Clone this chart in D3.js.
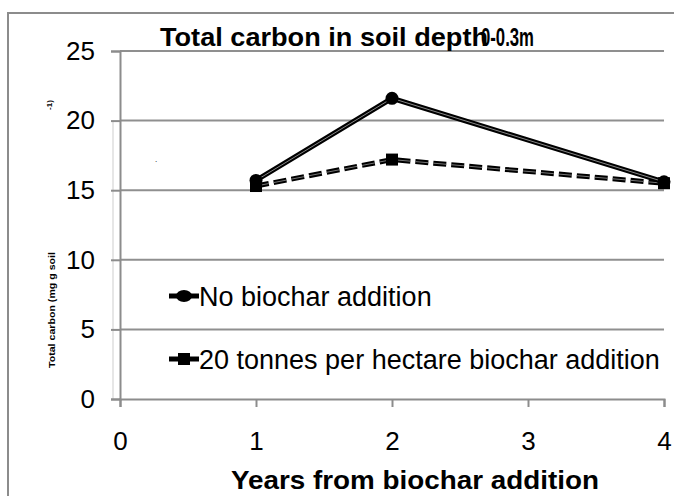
<!DOCTYPE html>
<html>
<head>
<meta charset="utf-8">
<script src="https://cdn.jsdelivr.net/npm/d3@7"></script>
<style>
  html, body { margin: 0; padding: 0; background: #fff; }
  text { font-family: "Liberation Sans", Arial, sans-serif; fill: #000; }
</style>
</head>
<body>
<div id="chart"></div>
<script>
// data
var years = [1, 2, 4];
var noBiochar = [15.7, 21.6, 15.6];
var biochar20 = [15.3, 17.2, 15.5];
var seriesNames = ['No biochar addition', '20 tonnes per hectare biochar addition'];
var xTicks = [0, 1, 2, 3, 4];
var yTicks = [0, 5, 10, 15, 20, 25];

var W = 674, H = 496;
var svg = d3.select('#chart')
            .append('svg')
            .attr('width', W)
            .attr('height', H);

// outer chart border
svg.append('rect')
    .attr('x', 8).attr('y', 13)
    .attr('width', W).attr('height', H)
    .style('fill', 'none')
    .style('stroke', '#8c8c8c')
    .style('stroke-width', 2);

var x = d3.scaleLinear().domain([0, 4]).range([120, 664]);
var y = d3.scaleLinear().domain([0, 25]).range([399, 51]);

// gridlines
svg.append('g')
    .selectAll('line')
    .data(yTicks.filter(function(d){ return d > 0; }))
    .enter().append('line')
    .attr('x1', x(0)).attr('x2', x(4))
    .attr('y1', function(d){ return y(d); })
    .attr('y2', function(d){ return y(d); })
    .style('stroke', '#8f8f8f')
    .style('stroke-width', 2);

// faint shadow line left of y axis
svg.append('line')
    .attr('x1', x(0) - 7).attr('x2', x(0) - 7)
    .attr('y1', y(20)).attr('y2', y(0))
    .style('stroke', '#e6e6e6')
    .style('stroke-width', 2);

var yAxis = svg.append('g')
    .attr('transform', 'translate(' + x(0) + ',0)')
    .call(d3.axisLeft(y).tickValues(yTicks).tickSize(9).tickPadding(16));
var xAxis = svg.append('g')
    .attr('transform', 'translate(0,' + y(0) + ')')
    .call(d3.axisBottom(x).tickValues(xTicks).tickFormat(d3.format('d')).tickSize(8).tickPadding(25));

[yAxis, xAxis].forEach(function(a){
  a.select('.domain').style('stroke', '#8c8c8c').style('stroke-width', 2);
  a.selectAll('.tick line').style('stroke', '#8c8c8c').style('stroke-width', 2);
  a.selectAll('.tick text')
    .style('font-family', '"Liberation Sans", Arial, sans-serif')
    .style('font-size', '26px')
    .style('fill', '#000');
});

var line = d3.line()
    .x(function(d){ return x(d[0]); })
    .y(function(d){ return y(d[1]); });

var s1 = d3.zip(years, noBiochar);
var s2 = d3.zip(years, biochar20);

// series 2: dashed with squares
svg.append('path')
    .datum(s2)
    .attr('d', line)
    .style('fill', 'none')
    .style('stroke', '#000')
    .style('stroke-width', 5)
    .style('stroke-dasharray', '13,5');
svg.append('path')
    .datum(s2)
    .attr('d', line)
    .style('fill', 'none')
    .style('stroke', '#777')
    .style('stroke-width', 1)
    .style('stroke-dasharray', '13,5');
svg.selectAll('.sq')
    .data(s2)
    .enter().append('rect')
    .attr('x', function(d){ return x(d[0]) - 6; })
    .attr('y', function(d){ return y(d[1]) - 6; })
    .attr('width', 12).attr('height', 12)
    .style('fill', '#000');

// series 1: solid with circles
svg.append('path')
    .datum(s1)
    .attr('d', line)
    .style('fill', 'none')
    .style('stroke', '#000')
    .style('stroke-width', 5);
svg.append('path')
    .datum(s1)
    .attr('d', line)
    .style('fill', 'none')
    .style('stroke', '#888')
    .style('stroke-width', 1);
svg.selectAll('.dot')
    .data(s1)
    .enter().append('circle')
    .attr('cx', function(d){ return x(d[0]); })
    .attr('cy', function(d){ return y(d[1]); })
    .attr('r', 6.5)
    .style('fill', '#000');

// legend
var legend = svg.append('g');
var legY = [296, 359];
seriesNames.forEach(function(name, i){
  var g = legend.append('g').attr('transform', 'translate(0,' + legY[i] + ')');
  g.append('line')
    .attr('x1', 169).attr('x2', 199)
    .style('stroke', '#000')
    .style('stroke-width', 5);
  if (i === 0) {
    g.append('ellipse').attr('cx', 184).attr('rx', 8).attr('ry', 6).style('fill', '#000');
  } else {
    g.append('rect').attr('x', 178).attr('y', -6).attr('width', 12).attr('height', 12).style('fill', '#000');
  }
  g.append('text')
    .attr('x', 199).attr('y', 10)
    .style('font-size', '27px')
    .text(name);
});

// chart title (overlapping as in the original)
svg.append('text')
    .attr('x', 160).attr('y', 46)
    .attr('textLength', 328)
    .attr('lengthAdjust', 'spacingAndGlyphs')
    .style('font-size', '25px')
    .style('font-weight', 'bold')
    .text('Total carbon in soil depth');
svg.append('text')
    .attr('x', 481).attr('y', 46)
    .attr('textLength', 53)
    .attr('lengthAdjust', 'spacingAndGlyphs')
    .style('font-size', '25px')
    .style('font-weight', 'bold')
    .text('0-0.3m');

// axis titles
svg.append('text')
    .attr('x', 231).attr('y', 489)
    .attr('textLength', 368)
    .attr('lengthAdjust', 'spacingAndGlyphs')
    .style('font-size', '26px')
    .style('font-weight', 'bold')
    .text('Years from biochar addition');

svg.append('text')
    .attr('transform', 'translate(55,368) rotate(-90)')
    .attr('textLength', 116)
    .attr('lengthAdjust', 'spacingAndGlyphs')
    .style('font-size', '9px')
    .style('font-weight', 'bold')
    .text('Total carbon (mg g soil');
svg.append('text')
    .attr('transform', 'translate(52,105) rotate(-90)')
    .attr('text-anchor', 'middle')
    .style('font-size', '8px')
    .style('font-weight', 'bold')
    .text('-1)');
svg.append('text')
    .attr('x', 155).attr('y', 162)
    .style('font-size', '8px')
    .text('.');
</script>
</body>
</html>
